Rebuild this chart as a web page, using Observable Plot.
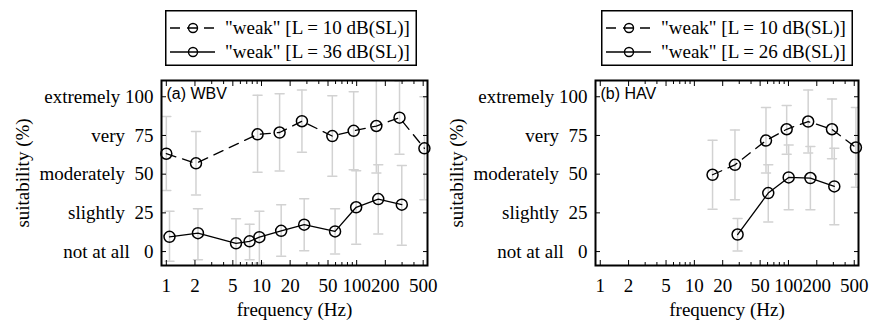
<!DOCTYPE html>
<html><head><meta charset="utf-8">
<script src="https://cdn.jsdelivr.net/npm/d3@7"></script>
<script src="https://cdn.jsdelivr.net/npm/@observablehq/plot@0.6"></script>
<style>
body{margin:0;background:#fff;}
#wrap{position:relative;width:871px;height:325px;background:#fff;font-family:"Liberation Serif","Times New Roman",serif;}
.panel{position:absolute;top:0;}
.legend{position:absolute;top:10px;}
svg text{white-space:pre;}
</style></head><body><div id="wrap"></div>
<script>
// axis ticks
const freqTicks = [1, 2, 5, 10, 20, 50, 100, 200, 500];
const freqMinor = [3, 4, 6, 7, 8, 9, 30, 40, 60, 70, 80, 90, 300, 400];
const suitTicks = [0, 25, 50, 75, 100];
const suitNames = ["not at all", "slightly", "moderately", "very", "extremely"];

// (a) WBV, "weak" L = 10 dB(SL)
const wbvLowF  = [1, 2.05, 9.1, 15.5, 26.6, 55.5, 93, 161, 282, 515];
const wbvLowM  = [63.2, 57.0, 75.7, 76.9, 84.2, 74.6, 78.0, 81.1, 86.5, 66.7];
const wbvLowLo = [39.4, 36.6, 51.2, 52.0, 64.2, 48.6, 52.8, 50.7, 62.9, 33.5];
const wbvLowHi = [87.2, 77.5, 101, 102, 104.3, 100.7, 103.3, 111.5, 110.1, 100];
// (a) WBV, "weak" L = 36 dB(SL)
const wbvHighF  = [1.08, 2.15, 5.4, 7.5, 9.5, 16.1, 28.1, 59.3, 98.8, 168.6, 298];
const wbvHighM  = [9.5, 11.9, 5.3, 6.6, 9.3, 13.4, 17.4, 13.0, 28.6, 33.9, 30.3];
const wbvHighLo = [-6.3, -5.3, -10.6, -5.3, -7.4, -3.1, 0.5, -1.6, 4.8, 11.4, 4.1];
const wbvHighHi = [26.0, 27.7, 21.2, 17.7, 26.0, 30.3, 34.1, 27.7, 52.2, 56.0, 55.6];

// (b) HAV, "weak" L = 10 dB(SL)
const havLowF  = [15.6, 27, 57.7, 95.7, 162, 290, 521];
const havLowM  = [49.6, 56.0, 71.7, 79.0, 84.0, 79.0, 67.2];
const havLowLo = [27.4, 33.5, 50.7, 62.9, 63.6, 59.9, 41.5];
const havLowHi = [71.9, 78.6, 93, 94.3, 104.3, 98.5, 93];
// (b) HAV, "weak" L = 26 dB(SL)
const havHighF  = [28.8, 61, 100.5, 171, 307];
const havHighM  = [11.0, 37.8, 47.9, 47.5, 42.1];
const havHighLo = [0.3, 19.1, 27.0, 27.0, 17.4];
const havHighHi = [21.3, 56, 68.9, 67.9, 66.8];

const serif = '"Liberation Serif","Times New Roman",serif';
const sans = '"Liberation Sans",Arial,sans-serif';
const barGray = "#d2d2d2";

const rows = (f, m, lo, hi) => f.map((x, i) => ({f: x, m: m[i], lo: lo[i], hi: hi[i]}));
const capShape = {draw(ctx, l) { ctx.moveTo(0, 0); ctx.lineTo(0, -l); }};

function errorMarks(data) {
  return [
    Plot.ruleX(data, {x: "f", y1: "lo", y2: "hi", stroke: barGray, strokeWidth: 1.5, clip: true}),
    Plot.vector(data, {x: "f", y: "hi", length: 9, rotate: 90, anchor: "middle", shape: capShape, stroke: barGray, strokeWidth: 1.5, clip: true}),
    Plot.vector(data, {x: "f", y: "lo", length: 9, rotate: 90, anchor: "middle", shape: capShape, stroke: barGray, strokeWidth: 1.5, clip: true})
  ];
}

function panel({low, high, tag, width, marginLeft, marginRight}) {
  return Plot.plot({
    width, height: 325,
    marginTop: 80, marginBottom: 60, marginLeft, marginRight,
    style: {fontFamily: serif, fontSize: "19px", color: "#000", background: "transparent", overflow: "visible"},
    x: {type: "log", domain: [0.89, 555]},
    y: {domain: [-9, 110.5]},
    marks: [
      ...errorMarks(low), ...errorMarks(high),
      Plot.line(low, {x: "f", y: "m", stroke: "#000", strokeWidth: 1.3, strokeDasharray: "10,7"}),
      Plot.line(high, {x: "f", y: "m", stroke: "#000", strokeWidth: 1.3}),
      Plot.dot(low, {x: "f", y: "m", r: 5.5, stroke: "#000", strokeWidth: 1.5, fill: "none"}),
      Plot.dot(high, {x: "f", y: "m", r: 5.5, stroke: "#000", strokeWidth: 1.5, fill: "none"}),
      Plot.frame({stroke: "#000", strokeWidth: 2}),
      Plot.axisY({anchor: "left", ticks: suitTicks, tickSize: 0, tickPadding: 8,
        tickFormat: d => `${suitNames[suitTicks.indexOf(d)]} ${String(d).padStart(3, " ")}`,
        label: "suitability (%)", labelAnchor: "center", labelOffset: 146, labelArrow: "none"}),
      Plot.axisY({anchor: "left", ticks: suitTicks, tickSize: -5, fill: "none", label: null}),
      Plot.axisY({anchor: "right", ticks: suitTicks, tickSize: -5, fill: "none", label: null}),
      Plot.axisX({anchor: "bottom", ticks: freqTicks, tickSize: 0, tickFormat: () => "",
        label: "frequency (Hz)", labelAnchor: "center", labelOffset: 50, labelArrow: "none"}),
      Plot.text(freqTicks, {x: d => d, text: d => String(d), frameAnchor: "bottom", dy: 20, lineAnchor: "middle", textAnchor: "middle"}),
      Plot.axisX({anchor: "bottom", ticks: freqTicks, tickSize: -5, fill: "none", label: null}),
      Plot.axisX({anchor: "bottom", ticks: freqMinor, tickSize: -3, fill: "none", label: null}),
      Plot.axisX({anchor: "top", ticks: freqTicks, tickSize: -5, fill: "none", label: null}),
      Plot.axisX({anchor: "top", ticks: freqMinor, tickSize: -3, fill: "none", label: null}),
      Plot.text([tag], {text: d => d, frameAnchor: "top-left", dx: 5, dy: 7, lineAnchor: "top", textAnchor: "start", fontFamily: sans, fontSize: 16})
    ]
  });
}

function legend(left, labels) {
  const div = document.createElement("div");
  div.className = "legend";
  div.style.left = left + "px";
  const rowsY = [18, 42];
  let s = `<svg width="252" height="56" xmlns="http://www.w3.org/2000/svg" style="font-family:${serif.replace(/"/g, "'")};font-size:19px;">`;
  s += `<rect x="0.75" y="0.75" width="250.5" height="54.5" fill="#fff" stroke="#000" stroke-width="1.5"/>`;
  labels.forEach((lab, i) => {
    const y = rowsY[i];
    const dash = i === 0 ? ` stroke-dasharray="10,7"` : "";
    s += `<line x1="5" x2="50" y1="${y}" y2="${y}" stroke="#000" stroke-width="1.3"${dash}/>`;
    s += `<circle cx="28" cy="${y}" r="4.5" fill="none" stroke="#000" stroke-width="1.4"/>`;
    s += `<text x="60" y="${y}" dy="0.33em">${lab}</text>`;
  });
  s += `</svg>`;
  div.innerHTML = s;
  return div;
}

const wrap = document.getElementById("wrap");

const pA = panel({
  low: rows(wbvLowF, wbvLowM, wbvLowLo, wbvLowHi),
  high: rows(wbvHighF, wbvHighM, wbvHighLo, wbvHighHi),
  tag: "(a) WBV", width: 435, marginLeft: 161, marginRight: 8
});
pA.classList.add("panel"); pA.style.left = "0px";
wrap.appendChild(pA);

const pB = panel({
  low: rows(havLowF, havLowM, havLowLo, havLowHi),
  high: rows(havHighF, havHighM, havHighLo, havHighHi),
  tag: "(b) HAV", width: 436, marginLeft: 160, marginRight: 13
});
pB.classList.add("panel"); pB.style.left = "435px";
wrap.appendChild(pB);

wrap.appendChild(legend(165, ['"weak" [L = 10 dB(SL)]', '"weak" [L = 36 dB(SL)]']));
wrap.appendChild(legend(601, ['"weak" [L = 10 dB(SL)]', '"weak" [L = 26 dB(SL)]']));
</script>
</body></html>
